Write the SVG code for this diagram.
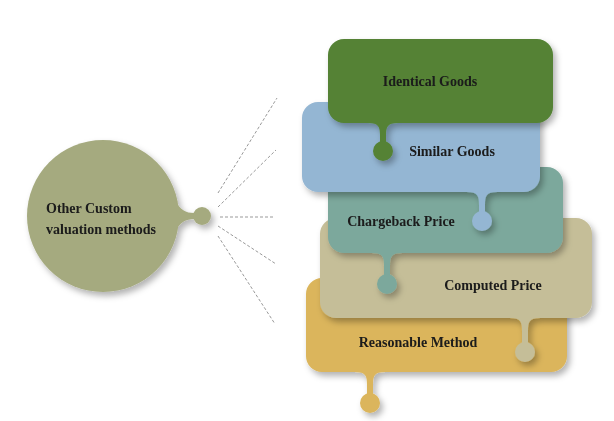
<svg xmlns="http://www.w3.org/2000/svg" width="614" height="421" viewBox="0 0 614 421">
<defs>
<filter id="sh" x="-20%" y="-20%" width="140%" height="150%">
<feDropShadow dx="3" dy="4" stdDeviation="3" flood-color="#000" flood-opacity="0.3"/>
</filter>
</defs>
<style>
.lbl{font-family:"Liberation Serif","Times New Roman",serif;font-weight:bold;font-size:14px;fill:#1a1a1a}
.dash{stroke:#999;stroke-width:1;stroke-dasharray:3,2;fill:none}
</style>
<rect width="614" height="421" fill="#fff"/>
<g id="connectors">
<line class="dash" x1="218" y1="193" x2="277" y2="98"/>
<line class="dash" x1="218" y1="207" x2="276" y2="150"/>
<line class="dash" x1="220" y1="217" x2="275" y2="217"/>
<line class="dash" x1="218" y1="226" x2="276" y2="264"/>
<line class="dash" x1="218" y1="236" x2="275" y2="324"/>
</g>
<g id="center" filter="url(#sh)" fill="#A5AA7F">
<circle cx="103" cy="216" r="76"/>
<path d="M175,200 C180,210 186,213 194,213 L196,213 L196,219 L194,219 C186,219 180,222 175,232 Z"/>
<circle cx="202" cy="216" r="9"/>
<text class="lbl" x="46" y="213">Other Custom</text>
<text class="lbl" x="46" y="234">valuation methods</text>
</g>
<g id="reasonable" filter="url(#sh)" fill="#DBB55B">
<rect x="306" y="278" width="261" height="94" rx="16"/>
<path d="M355,372 C366,372 367,376 367,385 L367,396 L373,396 L373,385 C373,376 374,372 385,372 Z"/>
<circle cx="370" cy="403" r="10"/>
<text class="lbl" x="418" y="347" text-anchor="middle">Reasonable Method</text>
</g>
<g id="computed" filter="url(#sh)" fill="#C5BE98">
<rect x="320" y="218" width="272" height="100" rx="16"/>
<path d="M510,318 C521,318 522,322 522,331 L522,345 L528,345 L528,331 C528,322 529,318 540,318 Z"/>
<circle cx="525" cy="352" r="10"/>
<text class="lbl" x="493" y="290" text-anchor="middle">Computed Price</text>
</g>
<g id="chargeback" filter="url(#sh)" fill="#7CA89C">
<rect x="328" y="167" width="235" height="86" rx="16"/>
<path d="M372,253 C383,253 384,257 384,266 L384,277 L390,277 L390,266 C390,257 391,253 402,253 Z"/>
<circle cx="387" cy="284" r="10"/>
<text class="lbl" x="401" y="226" text-anchor="middle">Chargeback Price</text>
</g>
<g id="similar" filter="url(#sh)" fill="#94B6D3">
<rect x="302" y="102" width="238" height="90" rx="16"/>
<path d="M467,192 C478,192 479,196 479,205 L479,214 L485,214 L485,205 C485,196 486,192 497,192 Z"/>
<circle cx="482" cy="221" r="10"/>
<text class="lbl" x="452" y="156" text-anchor="middle">Similar Goods</text>
</g>
<g id="identical" filter="url(#sh)" fill="#548235">
<rect x="328" y="39" width="225" height="84" rx="16"/>
<path d="M368,123 C379,123 380,127 380,136 L380,144 L386,144 L386,136 C386,127 387,123 398,123 Z"/>
<circle cx="383" cy="151" r="10"/>
<text class="lbl" x="430" y="86" text-anchor="middle">Identical Goods</text>
</g>
</svg>
